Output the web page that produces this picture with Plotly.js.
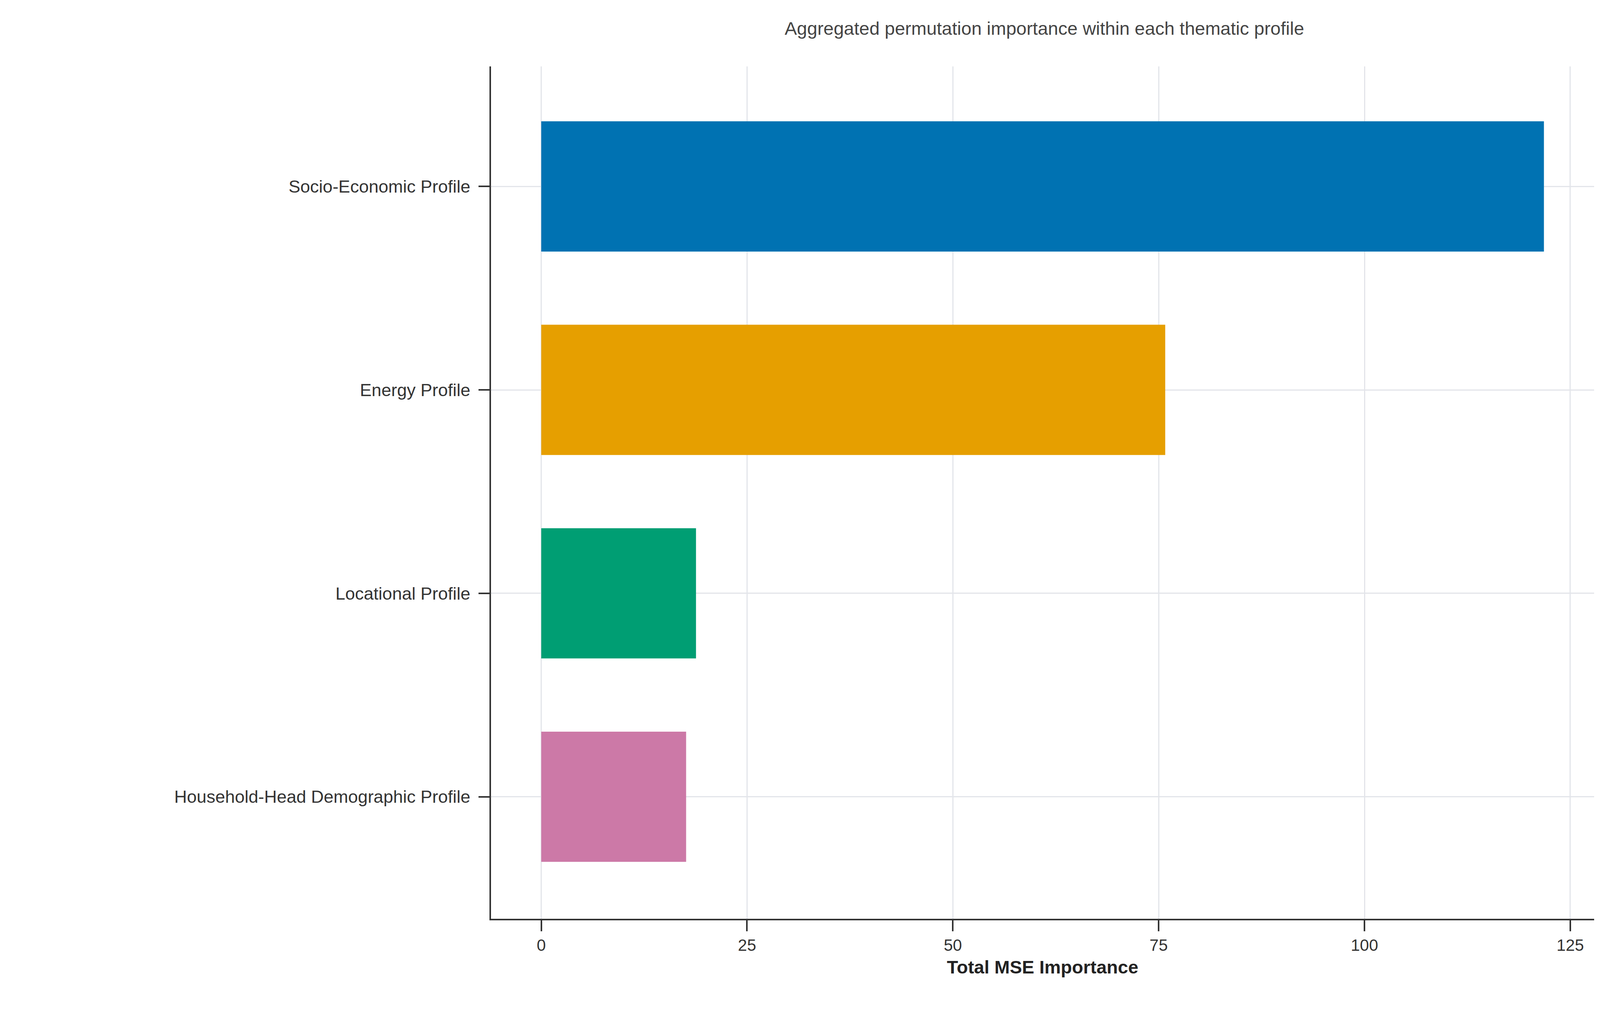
<!DOCTYPE html>
<html>
<head>
<meta charset="utf-8">
<script src="https://cdn.plot.ly/plotly-3.0.1.min.js"></script>
<style>html,body{margin:0;padding:0;background:#fff}#chart{width:4107px;height:2606px}</style>
</head>
<body>
<div id="chart"></div>
<script>
// Profiles listed bottom to top, as plotted
const profiles = ["Household-Head Demographic Profile", "Locational Profile", "Energy Profile", "Socio-Economic Profile"];
const importance = [17.6, 18.8, 75.8, 121.8];
const barColors = ["#CC79A7", "#009E73", "#E69F00", "#0072B2"];

const INK = "#333333";
const GRID = "#E3E5EA";

Plotly.newPlot("chart", [{
  type: "bar", orientation: "h",
  x: importance, y: profiles,
  marker: { color: barColors, line: { width: 0 } },
  width: 0.64,
}], {
  width: 4107, height: 2606,
  paper_bgcolor: "#fff", plot_bgcolor: "#fff",
  font: { family: "Arial, Liberation Sans, sans-serif", color: INK, size: 42 },
  margin: { l: 1257, r: 26, t: 170, b: 254 },
  showlegend: false,
  title: {
    text: "Aggregated permutation importance within each thematic profile",
    x: 0.651, xanchor: "center", y: 0.972, yanchor: "middle",
    font: { size: 47, color: "#444" },
  },
  xaxis: {
    range: [-6.1, 127.9], tickvals: [0, 25, 50, 75, 100, 125],
    showgrid: true, gridcolor: GRID, gridwidth: 3, zeroline: false,
    showline: true, linecolor: INK, linewidth: 4,
    ticks: "outside", ticklen: 28, tickwidth: 4, tickcolor: INK,
    tickfont: { size: 42 },
    title: { text: "<b>Total MSE Importance</b>", font: { size: 47, color: "#222" }, standoff: 18 },
  },
  yaxis: {
    type: "category", range: [-0.6, 3.59],
    showgrid: true, gridcolor: GRID, gridwidth: 3,
    showline: true, linecolor: INK, linewidth: 4,
    ticks: "outside", ticklen: 28, tickwidth: 4, tickcolor: INK,
    tickfont: { size: 45 }, ticklabelstandoff: 12,
  },
}, { displayModeBar: false });
</script>
</body>
</html>
